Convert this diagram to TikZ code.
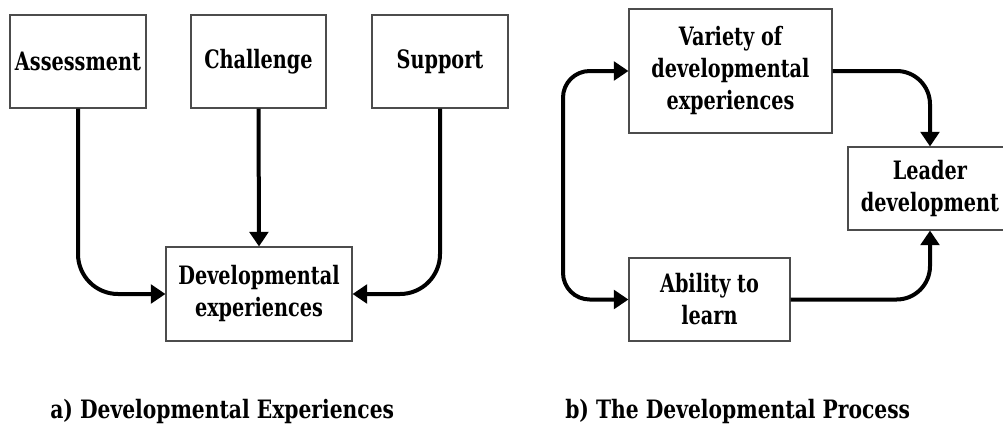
\documentclass[tikz,border=0pt]{standalone}
\usepackage{fontspec}
\newfontfamily\boxfont[FakeStretch=0.76]{DejaVu Serif}
\newfontfamily\capfont[FakeStretch=0.80]{DejaVu Serif}
\usetikzlibrary{arrows.meta}
\begin{document}
\begin{tikzpicture}[x=0.75pt,y=-0.75pt,
  box/.style={draw=black!70, line width=0.8pt, fill=white, align=center,
    inner sep=0pt, font=\boxfont\bfseries\fontsize{19}{24}\selectfont},
  arr/.style={line width=3pt, -{Triangle[length=11pt,width=14pt]}},
  arrb/.style={line width=3pt, {Triangle[length=11pt,width=14pt]}-{Triangle[length=11pt,width=14pt]}},
  captext/.style={anchor=base west, inner sep=0pt, font=\capfont\bfseries\fontsize{19}{24}\selectfont}]
\useasboundingbox (0,0) rectangle (1003,425);
\clip (0,0) rectangle (1003,425);
% left diagram
\node[box, minimum width=136*0.75pt, minimum height=93*0.75pt] (ass) at (78,61.5) {Assessment};
\node[box, minimum width=135*0.75pt, minimum height=93*0.75pt] (cha) at (258.5,61.5) {Challenge};
\node[box, minimum width=136*0.75pt, minimum height=93*0.75pt] (sup) at (440,61.5) {Support};
\node[box, minimum width=186*0.75pt, minimum height=94*0.75pt] (dev) at (259,294) {Developmental\\experiences};
\draw[arr, rounded corners=30pt] (ass.south) |- (dev.west);
\draw[arr] (cha.south) -- (dev.north);
\draw[arr, rounded corners=30pt] (sup.south) |- (dev.east);
% right diagram
\node[box, minimum width=203*0.75pt, minimum height=124*0.75pt] (var) at (730.5,71) {Variety of\\developmental\\experiences};
\node[box, minimum width=164*0.75pt, minimum height=83*0.75pt] (lead) at (930,188.5) {Leader\\development};
\node[box, minimum width=161*0.75pt, minimum height=83*0.75pt] (abl) at (709.5,299.5) {Ability to\\learn};
\coordinate (lp) at (563,185);
\draw[arrb, rounded corners=20pt] (var.west) -| (lp) |- (abl.west);
\draw[arr, rounded corners=25pt] (var.east) -| (lead.north);
\draw[arr, rounded corners=25pt] (abl.east) -| (lead.south);
% captions
\node[captext] (capa) at (50,418) {a) Developmental Experiences};
\node[captext] (capb) at (565,418) {b) The Developmental Process};
\end{tikzpicture}
\end{document}
